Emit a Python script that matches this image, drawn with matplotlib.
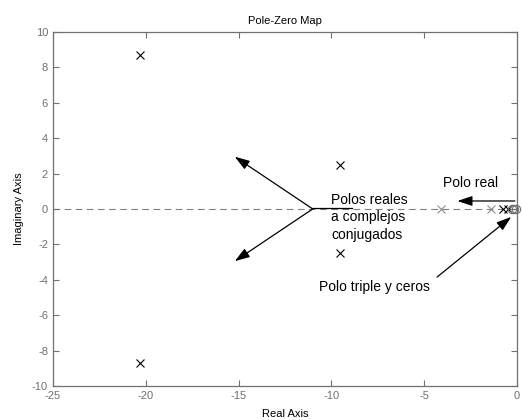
import numpy as np
import matplotlib.pyplot as plt

plt.rcParams['font.family'] = ['Liberation Sans', 'DejaVu Sans']
plt.rcParams['axes.unicode_minus'] = False

# pole/zero data
poles_cplx_re = [-20.3, -20.3, -9.55, -9.55]
poles_cplx_im = [8.7, -8.7, 2.5, -2.5]
poles_black_re = [-0.75, -0.5]
poles_gray_re = [-4.1, -1.4]
zeros_re = [-0.25, -0.15, -0.05]

xlim = (-25, 0)
ylim = (-10, 10)
xticks = [-25, -20, -15, -10, -5, 0]
yticks = [-10, -8, -6, -4, -2, 0, 2, 4, 6, 8, 10]

gray = '#707070'

fig = plt.figure(figsize=(5.22, 4.2), dpi=100)
ax = fig.add_axes([0.1015, 0.081, 0.8885, 0.843])

ax.plot(xlim, [0, 0], ls=(0, (6, 4)), color='#808080', lw=0.8, zorder=1)

ax.plot(poles_cplx_re, poles_cplx_im, 'x', color='black', ms=6, mew=0.8, zorder=3)
ax.plot(poles_gray_re, np.zeros(len(poles_gray_re)), 'x', color='#909090', ms=6, mew=0.8, zorder=3)
ax.plot(poles_black_re, np.zeros(len(poles_black_re)), 'x', color='black', ms=6, mew=0.8, zorder=3)
ax.plot(zeros_re, np.zeros(len(zeros_re)), 'o', mfc='none', mec=gray, ms=6, mew=0.8, zorder=3,
        clip_on=False)

# annotation arrows
arr = dict(arrowstyle='-|>,head_length=0.9,head_width=0.3', color='black', lw=0.9,
           shrinkA=0, shrinkB=0)
ax.annotate('', xy=(-15.2, 2.95), xytext=(-11.0, 0.0), arrowprops=arr)
ax.annotate('', xy=(-15.2, -2.95), xytext=(-11.0, 0.0), arrowprops=arr)
ax.plot([-11.0, -8.9], [0.03, 0.03], color='black', lw=0.9, zorder=2)
ax.annotate('', xy=(-3.2, 0.45), xytext=(-0.1, 0.45), arrowprops=arr)
ax.annotate('', xy=(-0.3, -0.45), xytext=(-4.3, -3.85), arrowprops=arr)

ax.text(-10.0, 0.9, 'Polos reales\na complejos\nconjugados', fontsize=10, va='top',
        ha='left', linespacing=1.3)
ax.text(-2.5, 1.05, 'Polo real', fontsize=10, ha='center', va='bottom')
ax.text(-10.65, -4.4, 'Polo triple y ceros', fontsize=10, ha='left', va='center')

ax.set_xlim(xlim)
ax.set_ylim(ylim)
ax.set_xticks(xticks)
ax.set_yticks(yticks)
ax.tick_params(direction='in', top=True, right=True, labelsize=8, colors=gray,
               length=4, width=0.8)
for s in ax.spines.values():
    s.set_color(gray)
    s.set_linewidth(0.9)

ax.set_title('Pole-Zero Map', fontsize=8, pad=6)
ax.set_xlabel('Real Axis', fontsize=8, labelpad=6)
ax.set_ylabel('Imaginary Axis', fontsize=8, labelpad=6)

fig.savefig('out.png', dpi=100)
